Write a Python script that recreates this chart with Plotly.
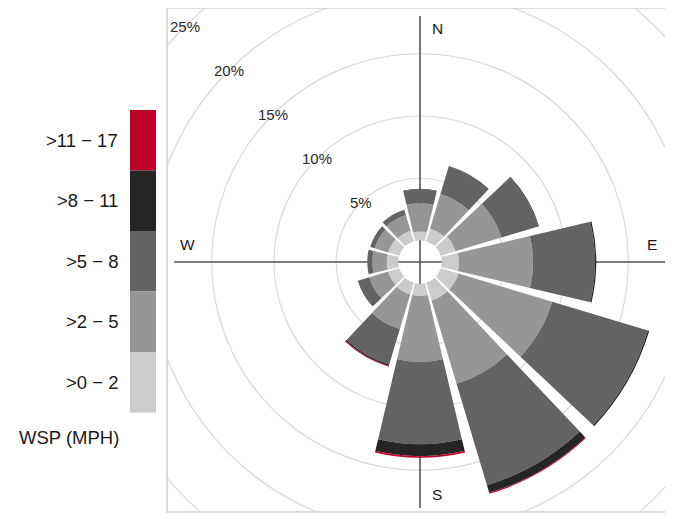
import plotly.graph_objects as go
import math

# ---------------- data ----------------
directions = ["N", "NNE", "ENE", "E", "ESE", "SSE", "S", "SSW", "WSW", "W", "WNW", "NNW"]
theta_deg = [0, 30, 60, 90, 120, 150, 180, 210, 240, 270, 300, 330]

speed_bins = [">0 \u2212 2", ">2 \u2212 5", ">5 \u2212 8", ">8 \u2212 11", ">11 \u2212 17"]
bin_colors = ["#CCCCCC", "#969696", "#636363", "#252525", "#BD0026"]

f_0_2 = [0.72, 1.08, 1.25, 1.40, 1.50, 1.50, 1.00, 1.00, 0.95, 0.95, 0.95, 0.90]
f_2_5 = [2.27, 2.90, 3.85, 5.95, 7.86, 6.97, 5.30, 2.90, 1.58, 1.15, 1.14, 1.31]
f_5_8 = [1.12, 2.30, 3.10, 4.98, 8.03, 8.52, 6.60, 2.97, 0.96, 0.41, 0.36, 0.45]
f_8_11 = [0.04, 0.05, 0.05, 0.10, 0.11, 0.64, 0.96, 0.13, 0.0, 0.0, 0.0, 0.0]
f_11_17 = [0.0, 0.0, 0.0, 0.0, 0.0, 0.08, 0.14, 0.05, 0.0, 0.0, 0.0, 0.0]
band_values = [f_0_2, f_2_5, f_5_8, f_8_11, f_11_17]

grid_pct = [5, 10, 15, 20, 25]
grid_labels = ["5%", "10%", "15%", "20%", "25%"]
compass = ["N", "E", "S", "W"]
key_title = "WSP (MPH)"

# ---------------- geometry ----------------
OFF = 8                      # default page body margin
W, H = 673 - OFF, 519 - OFF  # figure size so that it fills the window


def px_x(X):                 # window px -> paper x
    return (X - OFF) / W


def px_y(Y):                 # window px -> paper y
    return 1 - (Y - OFF) / H


cx, cy = 420, 262          # centre of rose in window px
R = 250                    # polar radius in px
hole_px = 21.5
px_per_pct = 12.45
rmax = (R - hole_px) / px_per_pct
hole = hole_px / R
bar_width = 26.6

box = dict(l=167, r=671, t=8, b=512)


def pct_to_px(p):
    return hole * R + (1 - hole) * R * p / rmax


fig = go.Figure()

for name, col, vals in zip(speed_bins, bin_colors, band_values):
    fig.add_trace(go.Barpolar(
        r=vals, theta=theta_deg, name=name,
        width=[bar_width] * len(theta_deg),
        marker=dict(color=col, line=dict(width=0)),
        showlegend=False, hoverinfo="skip",
    ))

# Cartesian overlay (1 unit = 1 px, origin at rose centre) for grid rings & cross
fig.add_trace(go.Scatter(x=[0], y=[0], mode="markers",
                         marker=dict(size=1, color="rgba(0,0,0,0)"),
                         showlegend=False, hoverinfo="skip"))

shapes = []
for p in grid_pct:
    rr = pct_to_px(p)
    shapes.append(dict(type="circle", xref="x", yref="y", x0=-rr, x1=rr, y0=-rr, y1=rr,
                       line=dict(color="#D9D9D9", width=1.2), layer="below"))
arm = 246
shapes.append(dict(type="line", xref="x", yref="y", x0=0, x1=0, y0=-arm, y1=arm,
                   line=dict(color="#555555", width=1.6), layer="below"))
shapes.append(dict(type="line", xref="x", yref="y", x0=-arm, x1=arm, y0=0, y1=0,
                   line=dict(color="#555555", width=1.6), layer="below"))
# frame
shapes.append(dict(type="rect", xref="paper", yref="paper",
                   x0=px_x(box["l"]), x1=px_x(box["r"]), y0=px_y(box["b"]), y1=px_y(box["t"]),
                   line=dict(color="#DCDCDC", width=2), layer="below"))

# colour key boxes
key_top, key_h, key_l, key_r = 110, 60.5, 130, 156
for i, col in enumerate(reversed(bin_colors)):
    y0 = key_top + i * key_h
    shapes.append(dict(type="rect", xref="paper", yref="paper",
                       x0=px_x(key_l), x1=px_x(key_r),
                       y0=px_y(y0 + key_h), y1=px_y(y0),
                       fillcolor=col, line=dict(width=0), layer="above"))

annotations = []
for i, lab in enumerate(reversed(speed_bins)):
    yc = key_top + (i + 0.5) * key_h
    annotations.append(dict(text=lab, xref="paper", yref="paper", x=px_x(120), y=px_y(yc),
                            xanchor="right", yanchor="middle", showarrow=False,
                            font=dict(size=18.5, color="#1A1A1A")))
annotations.append(dict(text=key_title, xref="paper", yref="paper", x=px_x(121), y=px_y(437),
                        xanchor="right", yanchor="middle", showarrow=False,
                        font=dict(size=18.5, color="#1A1A1A")))

# ring labels along the 315 deg diagonal
for p, lab in zip(grid_pct, grid_labels):
    rr = pct_to_px(p)
    annotations.append(dict(text=lab, xref="x", yref="y", x=-rr / math.sqrt(2), y=rr / math.sqrt(2),
                            xanchor="center", yanchor="middle", showarrow=False,
                            font=dict(size=15, color="#2A2A2A")))

# compass labels
comp_pos = {"N": (17, 234), "E": (232, 18), "S": (17, -232), "W": (-233, 18)}
for c in compass:
    x, y = comp_pos[c]
    annotations.append(dict(text=c, xref="x", yref="y", x=x, y=y,
                            xanchor="center", yanchor="middle", showarrow=False,
                            font=dict(size=15.5, color="#1A1A1A")))

fig.update_layout(
    width=W, height=H, autosize=False,
    margin=dict(l=0, r=0, t=0, b=0),
    paper_bgcolor="white", plot_bgcolor="rgba(0,0,0,0)",
    font=dict(family="Liberation Sans, Arial, sans-serif"),
    showlegend=False,
    xaxis=dict(domain=[px_x(box["l"]), px_x(box["r"])], range=[box["l"] - cx, box["r"] - cx],
               visible=False, fixedrange=True),
    yaxis=dict(domain=[px_y(box["b"]), px_y(box["t"])], range=[cy - box["b"], cy - box["t"]],
               visible=False, fixedrange=True),
    polar=dict(
        domain=dict(x=[px_x(cx - R), px_x(cx + R)], y=[px_y(cy + R), px_y(cy - R)]),
        hole=hole,
        bgcolor="rgba(0,0,0,0)",
        barmode="stack",
        radialaxis=dict(range=[0, rmax], visible=False, showgrid=False),
        angularaxis=dict(rotation=90, direction="clockwise", visible=False, showgrid=False,
                         showline=False, showticklabels=False, ticks=""),
    ),
    shapes=shapes,
    annotations=annotations,
)

fig.write_html("out.html")
